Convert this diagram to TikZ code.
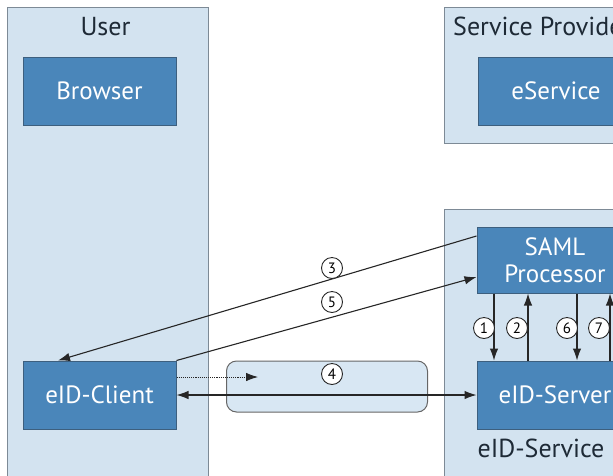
\documentclass[tikz,border=0pt]{standalone}
\usepackage{fontspec}
\setmainfont{PT Sans}
\usetikzlibrary{arrows.meta,positioning}
\definecolor{lanefill}{HTML}{D3E3F0}
\definecolor{laneline}{HTML}{7D8A96}
\definecolor{boxfill}{HTML}{4A86BA}
\definecolor{boxline}{HTML}{3D5F7E}
\definecolor{chanfill}{HTML}{D8E7F3}
\definecolor{titletext}{HTML}{1E2A36}

\begin{document}
\begin{tikzpicture}[x=1pt,y=-1pt,
  lane/.style={draw=laneline, fill=lanefill, line width=1pt},
  comp/.style={draw=boxline, fill=boxfill, line width=1pt, text=white, minimum width=153pt, minimum height=68pt, inner sep=0pt, align=center, font=\fontsize{25}{27}\selectfont},
  title/.style={text=titletext, anchor=base, inner sep=0pt, font=\fontsize{26}{28}\selectfont},
  msg/.style={-{Latex[length=12pt,width=8.5pt]}, line width=1.1pt, draw=black!85},
  num/.style={draw=black!85, fill=white, circle, line width=0.9pt, inner sep=0pt, minimum size=21pt, font=\fontsize{15}{15}\selectfont}]
  \useasboundingbox (0,0) rectangle (613,475);
  \clip (0,0) rectangle (613,475);

  % lanes
  \draw [lane] (7,7) rectangle (208,490);
  \draw [lane] (444,7) rectangle (680,143);
  \draw [lane] (444,209) rectangle (680,490);
  \node [title] (user) at (105.5,35) {User};
  \node [title, anchor=base west] (sp) at (453,35) {Service Provider};
  \node [title] (eids) at (541,457) {eID-Service};

  % channel
  \node [draw=black!60, fill=chanfill, rounded corners=10pt, line width=1pt, minimum width=201pt, minimum height=51pt] (chan) at (327,386.5) {};

  % components
  \node [comp] (browser) at (99.5,91) {Browser};
  \node [comp] (client) at (99.5,395) {eID-Client};
  \node [comp, minimum width=156pt] (eservice) at (556,91) {eService};
  \node [comp, minimum width=156pt, minimum height=66pt] (saml) at (555,260) {SAML\\Processor};
  \node [comp, minimum width=156pt] (server) at (555,395) {eID-Server};

  % messages
  \draw [msg] ([yshift=24pt]saml.west) -- ([xshift=-41.5pt]client.north);
  \draw [msg] (client.north east) -- ([yshift=-17pt]saml.west);
  \draw [msg, {Latex[length=12pt,width=8.5pt]}-{Latex[length=12pt,width=8.5pt]}] (client.east) -- (server.west);
  \draw [msg, densely dotted, line width=0.8pt] ([yshift=18pt]client.east) -- ([xshift=32pt,yshift=9.5pt]chan.west);
  \draw [msg] ([xshift=-61pt]saml.south) -- ([xshift=-61pt]server.north);
  \draw [msg] ([xshift=-27pt]server.north) -- ([xshift=-27pt]saml.south);
  \draw [msg] ([xshift=22pt]saml.south) -- ([xshift=22pt]server.north);
  \draw [msg] ([xshift=55pt]server.north) -- ([xshift=55pt]saml.south);

  % step numbers
  \node [num] (n3) at (332,268) {3};
  \node [num] (n5) at (332,302) {5};
  \node [num] (n4) at (332,374) {4};
  \node [num] (n1) at (484,328) {1};
  \node [num] (n2) at (517,328) {2};
  \node [num] (n6) at (567,328) {6};
  \node [num] (n7) at (599,328) {7};
\end{tikzpicture}
\end{document}
